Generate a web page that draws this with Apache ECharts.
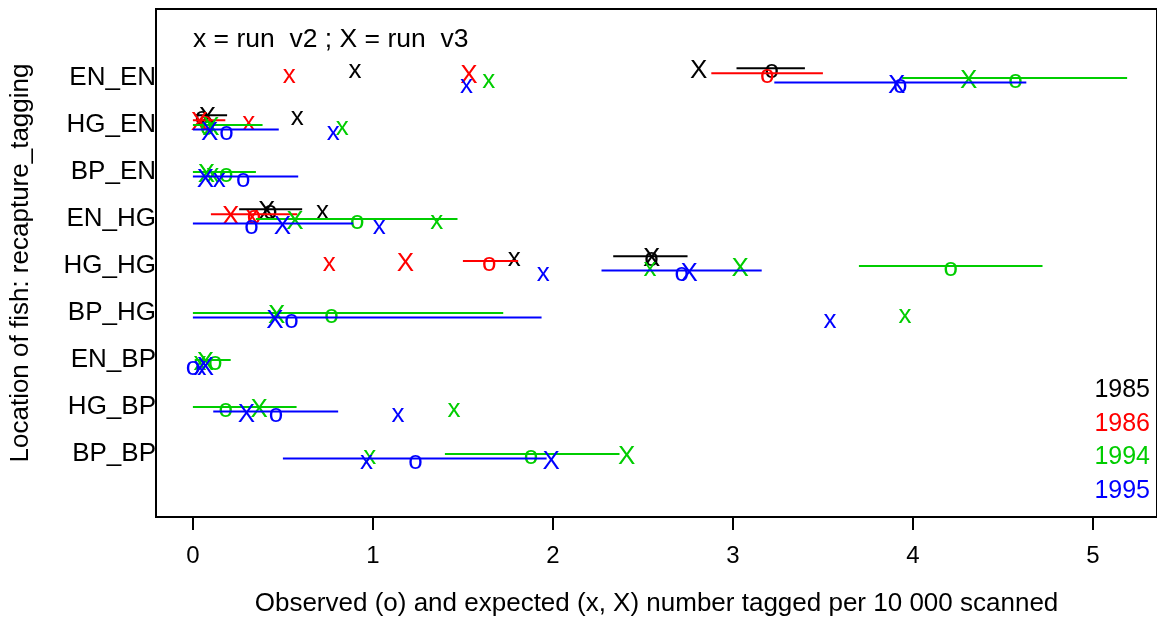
<!DOCTYPE html>
<html>
<head>
<meta charset="utf-8">
<script src="https://cdn.jsdelivr.net/npm/echarts@6/dist/echarts.min.js"></script>
<style>
  html, body { margin: 0; padding: 0; background: #fff; }
  #chart { width: 1157px; height: 617px; }
</style>
</head>
<body>
<div id="chart"></div>
<script>
// rows of the plot, top to bottom
const rows = ['EN_EN', 'HG_EN', 'BP_EN', 'EN_HG', 'HG_HG', 'BP_HG', 'EN_BP', 'HG_BP', 'BP_BP'];
const years = ['1985', '1986', '1994', '1995'];
const xTicks = [0, 1, 2, 3, 4, 5];

// observed (o) with interval, expected run v2 (x) and run v3 (X), per row
const obs1985 = [3.215, 0.05, null, 0.43, 2.548, null, null, null, null];
const lo1985 = [3.02, 0.01, null, 0.257, 2.335, null, null, null, null];
const hi1985 = [3.40, 0.19, null, 0.607, 2.748, null, null, null, null];
const v2_1985 = [0.90, 0.58, null, 0.72, 1.785, null, null, null, null];
const v3_1985 = [2.81, 0.08, null, 0.41, 2.548, null, null, null, null];

const obs1986 = [3.19, 0.07, null, 0.34, 1.646, null, null, null, null];
const lo1986 = [2.88, 0.0, null, 0.10, 1.50, null, null, null, null];
const hi1986 = [3.50, 0.18, null, 0.58, 1.807, null, null, null, null];
const v2_1986 = [0.535, 0.31, null, 0.33, 0.757, null, null, null, null];
const v3_1986 = [1.533, 0.036, null, 0.21, 1.18, null, null, null, null];

const obs1994 = [4.57, 0.08, 0.185, 0.913, 4.21, 0.77, 0.124, 0.183, 1.878];
const lo1994 = [3.94, 0.0, 0.0, 0.35, 3.70, 0.0, 0.01, 0.0, 1.40];
const hi1994 = [5.19, 0.387, 0.35, 1.47, 4.72, 1.724, 0.21, 0.576, 2.37];
const v2_1994 = [1.644, 0.83, 0.11, 1.354, 2.54, 3.956, 0.04, 1.45, 0.983];
const v3_1994 = [4.31, 0.10, 0.075, 0.567, 3.04, 0.465, 0.07, 0.368, 2.41];

const obs1995 = [3.93, 0.186, 0.28, 0.326, 2.715, 0.548, 0.0, 0.461, 1.237];
const lo1995 = [3.23, 0.0, 0.0, 0.0, 2.27, 0.0, null, 0.113, 0.50];
const hi1995 = [4.63, 0.477, 0.585, 0.89, 3.16, 1.937, null, 0.807, 1.965];
const v2_1995 = [1.52, 0.78, 0.147, 1.035, 1.946, 3.54, 0.04, 1.14, 0.965];
const v3_1995 = [3.91, 0.093, 0.07, 0.498, 2.757, 0.456, 0.07, 0.298, 1.99];

const yearColors = ['#000000', '#ff0000', '#00cd00', '#0000ff'];
const yearShift = [-0.21, -0.105, 0, 0.095];
const glyphs = ['o', 'x', 'X'];
const FONT = '"Liberation Sans", Arial, sans-serif';

const byYear = [
  { obs: obs1985, lo: lo1985, hi: hi1985, v2: v2_1985, v3: v3_1985 },
  { obs: obs1986, lo: lo1986, hi: hi1986, v2: v2_1986, v3: v3_1986 },
  { obs: obs1994, lo: lo1994, hi: hi1994, v2: v2_1994, v3: v3_1994 },
  { obs: obs1995, lo: lo1995, hi: hi1995, v2: v2_1995, v3: v3_1995 }
];

const series = [];
byYear.forEach((d, yi) => {
  const color = yearColors[yi];
  const lines = [];
  const marks = [];
  rows.forEach((r, ri) => {
    const yv = ri + 1 + yearShift[yi];
    if (d.lo[ri] != null) lines.push([d.lo[ri], d.hi[ri], yv]);
    if (d.obs[ri] != null) marks.push([d.obs[ri], yv, 0]);
    if (d.v2[ri] != null) marks.push([d.v2[ri], yv, 1]);
    if (d.v3[ri] != null) marks.push([d.v3[ri], yv, 2]);
  });
  series.push({
    name: years[yi],
    type: 'custom',
    data: lines,
    encode: { x: [0, 1], y: 2 },
    renderItem: (params, api) => {
      const a = api.coord([api.value(0), api.value(2)]);
      const b = api.coord([api.value(1), api.value(2)]);
      return {
        type: 'line',
        shape: { x1: a[0], y1: a[1], x2: b[0], y2: b[1] },
        style: { stroke: color, lineWidth: 2 }
      };
    }
  });
  series.push({
    name: years[yi],
    type: 'custom',
    data: marks,
    encode: { x: 0, y: 1 },
    renderItem: (params, api) => {
      const p = api.coord([api.value(0), api.value(1)]);
      return {
        type: 'text',
        x: p[0],
        y: p[1] + 3,
        style: {
          text: glyphs[api.value(2)],
          fill: color,
          font: '26px ' + FONT,
          align: 'center',
          verticalAlign: 'middle'
        }
      };
    }
  });
});

const chart = echarts.init(document.getElementById('chart'));
chart.setOption({
  animation: false,
  backgroundColor: '#ffffff',
  textStyle: { fontFamily: FONT },
  grid: {
    left: 156, right: 0, top: 9, bottom: 100,
    outerBoundsMode: 'none',
    containLabel: false,
    show: true, borderColor: '#000', borderWidth: 2, backgroundColor: 'transparent'
  },
  xAxis: {
    type: 'value',
    min: -0.205,
    max: 5.356,
    name: 'Observed (o) and expected (x, X) number tagged per 10 000 scanned',
    nameLocation: 'middle',
    nameGap: 74,
    nameTextStyle: { fontSize: 26, color: '#000', fontFamily: FONT },
    axisLine: { show: true, onZero: false, lineStyle: { color: '#000', width: 2 } },
    axisTick: { show: true, customValues: xTicks, length: 13, lineStyle: { color: '#000', width: 2 } },
    axisLabel: { customValues: xTicks, fontSize: 24, color: '#000', margin: 27, fontFamily: FONT },
    splitLine: { show: false }
  },
  yAxis: {
    type: 'value',
    inverse: true,
    min: -0.47,
    max: 10.34,
    name: 'Location of fish: recapture_tagging',
    nameLocation: 'middle',
    nameGap: 122,
    nameRotate: 90,
    nameTextStyle: { fontSize: 26, color: '#000', fontFamily: FONT },
    axisLine: { show: true, onZero: false, lineStyle: { color: '#000', width: 2 } },
    axisTick: { show: false },
    axisLabel: {
      customValues: rows.map((r, i) => i + 1),
      formatter: v => rows[Math.round(v) - 1] || '',
      fontSize: 26, color: '#000', margin: 0, fontFamily: FONT
    },
    splitLine: { show: false }
  },
  graphic: [
    {
      type: 'text', left: 193, top: 26,
      style: { text: 'x = run  v2 ; X = run  v3', fill: '#000', font: '26.5px ' + FONT }
    }
  ].concat(years.map((y, i) => ({
    type: 'text', right: 7, top: 378 + i * 33.5,
    style: { text: y, fill: yearColors[i], font: '25px ' + FONT }
  }))),
  series: series
});
</script>
</body>
</html>
